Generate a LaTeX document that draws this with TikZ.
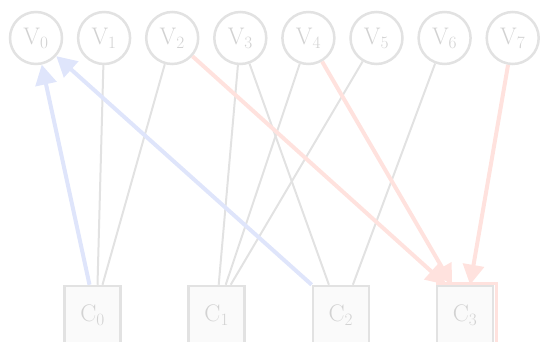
\documentclass[tikz,border=0pt]{standalone}
\usepackage{fontspec}
\usetikzlibrary{arrows.meta,calc,backgrounds}
\definecolor{edgegray}{HTML}{E2E2E2}
\definecolor{labelgray}{HTML}{D2D2D2}
\definecolor{boxfill}{HTML}{FAFAFA}
\definecolor{hotred}{HTML}{FFE2DE}
\definecolor{coolblue}{HTML}{DFE5FB}
\newcommand{\lblfont}{\fontsize{24pt}{24pt}\selectfont}
\begin{document}
\begin{tikzpicture}[x=1pt,y=-1pt,
  var/.style={circle,draw=edgegray,line width=2.5pt,fill=white,
    minimum size=52pt,inner sep=0pt,text=labelgray,font=\lblfont},
  chk/.style={rectangle,draw=edgegray,line width=2.5pt,fill=boxfill,
    minimum width=56pt,minimum height=58pt,inner sep=0pt,text=labelgray,
    font=\lblfont},
  link/.style={draw=edgegray,line width=2pt},
  hot/.style={draw=hotred,line width=4pt,
    -{Triangle[length=20pt,width=21pt]}},
  cool/.style={draw=coolblue,line width=4pt,
    -{Triangle[length=20pt,width=21pt]}}]
\useasboundingbox (0,0) rectangle (549,342);

% variable nodes
\foreach \i in {0,...,7}
  \node[var] (V\i) at ({36+68.1*\i},38) {V$_{\i}$};

% check nodes
\foreach \j in {0,...,3}
  \node[chk] (C\j) at ({92.5+124.2*\j},315) {C$_{\j}$};

% highlight frame behind C3
\begin{scope}[on background layer]
  \draw[hotred,line width=3pt]
    ($(C3.north west)+(1.25,-1.5)$) rectangle ($(C3.south east)+(2.5,5)$);
\end{scope}

% plain edges
\draw[link] (V1) -- ([xshift=5pt]C0.north);
\draw[link] (V2) -- ([xshift=10pt]C0.north);
\draw[link] (V3) -- ([xshift=2pt]C1.north);
\draw[link] (V4) -- ([xshift=9pt]C1.north);
\draw[link] (V5) -- ([xshift=14pt]C1.north);
\draw[link] (V3) -- ([xshift=-12pt]C2.north);
\draw[link] (V6) -- ([xshift=12pt]C2.north);

% highlighted messages
\draw[hot] (V2) -- ([xshift=-19pt]C3.north);
\draw[hot] (V4) -- ([xshift=-13pt]C3.north);
\draw[hot] (V7) -- ([xshift=5pt]C3.north);
\draw[cool] ([xshift=-3pt]C0.north) -- (V0);
\draw[cool] (C2.north west) -- (V0);
\end{tikzpicture}
\end{document}
